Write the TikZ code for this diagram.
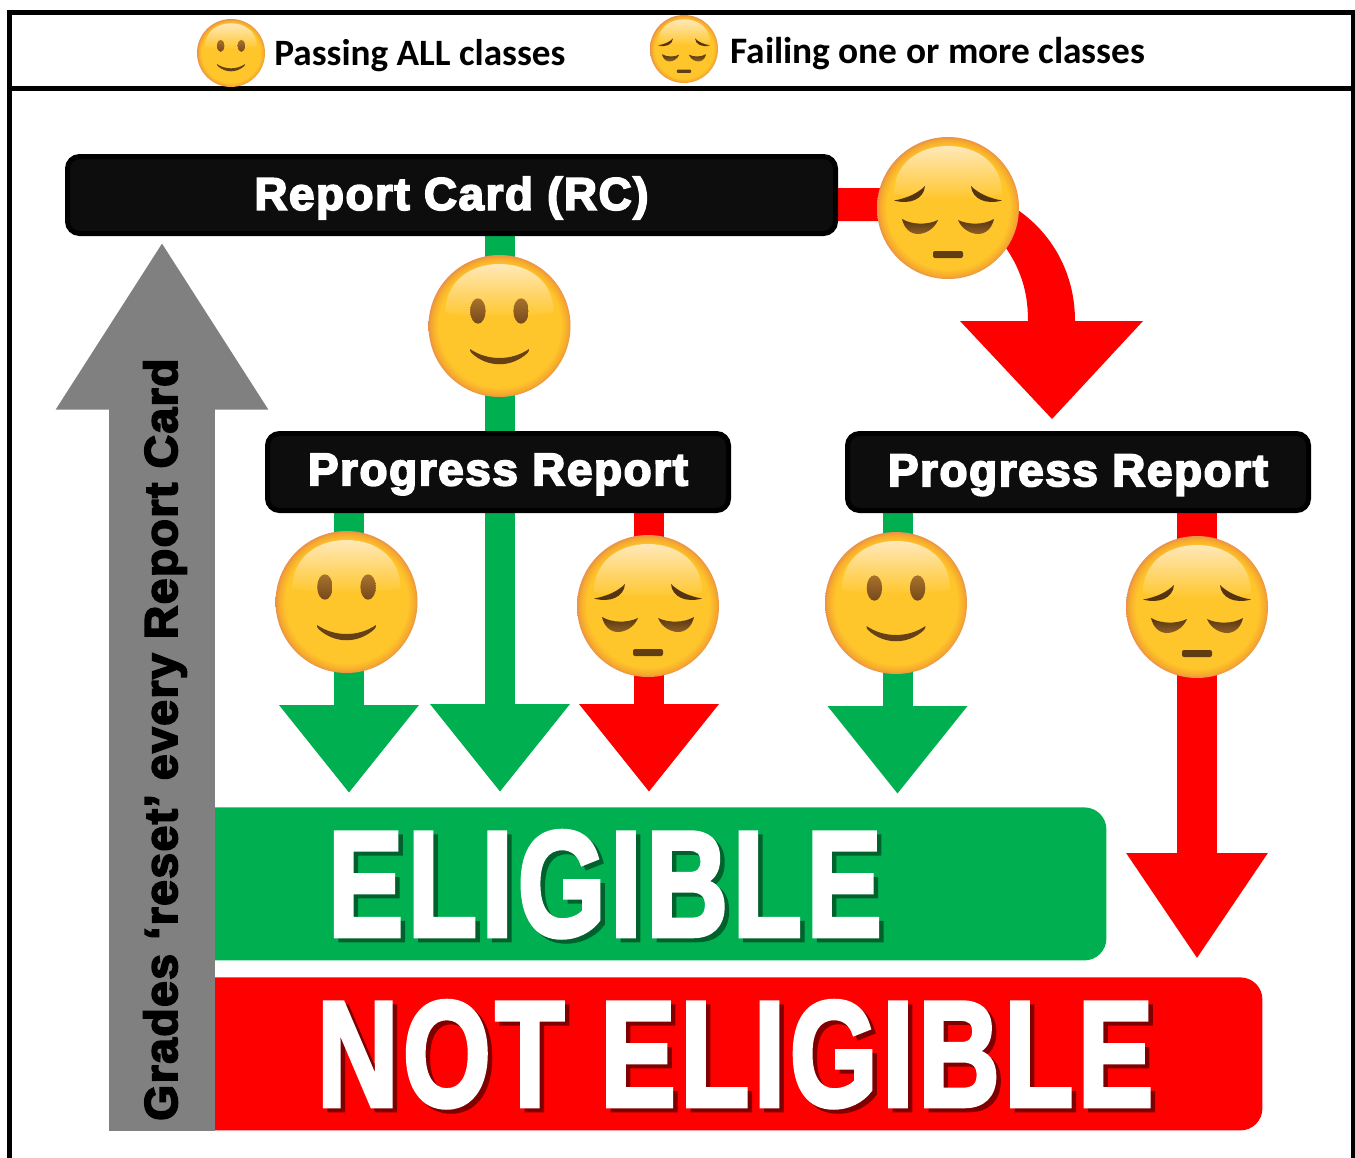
\documentclass[tikz,border=0pt]{standalone}
\usepackage{fontspec}
\usepackage{graphicx}
\usetikzlibrary{arrows.meta,shadings}
\newfontfamily\blk[FakeBold=4,LetterSpace=3.5]{Liberation Sans Bold}
\newfontfamily\blkb[FakeBold=3,LetterSpace=4]{Liberation Sans Bold}
\newfontfamily\hdr{Carlito Bold}
\definecolor{gn}{HTML}{00B050}
\definecolor{rd}{HTML}{FF0000}
\definecolor{gy}{HTML}{808080}
\definecolor{bx}{HTML}{0D0D0D}
\definecolor{faceY}{HTML}{FFC62B}
\definecolor{faceO}{HTML}{F6A92C}
\definecolor{faceE}{HTML}{E8924A}
\definecolor{faceH}{HTML}{FFE8B8}
\definecolor{fd}{HTML}{553410}
\definecolor{fl}{HTML}{8F6024}
\definecolor{el}{HTML}{A8722C}
\definecolor{ed}{HTML}{76491A}
\pgfdeclareradialshading{facefill}{\pgfpointorigin}{color(0bp)=(faceY); color(21.5bp)=(faceY); color(24bp)=(faceO); color(25bp)=(faceE); color(50bp)=(faceE)}
\tikzset{
  boxnode/.style={draw=black,fill=bx,line width=2.5pt,rounded corners=6pt,inner sep=0pt},
  boxtext/.style={inner sep=0pt,text=white,font=\blk},
  barnode/.style={rounded corners=11pt,inner sep=0pt,minimum height=76.5pt},
  facenode/.style={circle,shading=facefill,inner sep=0pt,draw=none},
  feat/.style={top color=fd,bottom color=fl,draw=none},
  eyefeat/.style={top color=el,bottom color=ed,draw=none},
  gshaft/.style={draw=gn,line width=15pt,-{Triangle[width=67pt,length=44pt]}},
  rshaft/.style={draw=rd,line width=15pt,-{Triangle[width=67pt,length=44pt]}},
  frameline/.style={draw=black,line width=2.5pt},
  bigtext/.style={inner sep=0pt,anchor=base west,font=\blkb},
  sidetext/.style={inner sep=0pt,anchor=base west,font=\blk}
}
\newcommand\faceback[4]{%
  \node[facenode,minimum size=#4pt] (#1) at (#2,#3) {};
  \pgfmathsetlengthmacro\fu{#4*0.5/71*1pt}%
  \begin{scope}[shift={(#1.center)},x=\fu,y=-\fu]
    \path[top color=faceH,bottom color=faceY,draw=none] (-54,-14) .. controls (-54,-44) and (-30,-62) .. (0,-62) .. controls (30,-62) and (54,-44) .. (54,-14) .. controls (30,-8) and (-30,-8) .. (-54,-14) -- cycle;
  \end{scope}}
\newcommand\smileface[4]{%
  \faceback{#1}{#2}{#3}{#4}%
  \begin{scope}[shift={(#1.center)},x=\fu,y=-\fu]
    \path[eyefeat] (-21.6,-15) ellipse [x radius=7.7,y radius=12.7];
    \path[eyefeat] (21.6,-15) ellipse [x radius=7.7,y radius=12.7];
    \path[fill=fd!70!fl,draw=none] (-29.5,23) .. controls (-12,35) and (12,35) .. (29.5,23) .. controls (29.5,25) and (29,26) .. (28,27) .. controls (12,42) and (-12,42) .. (-28,27) .. controls (-29,26) and (-29.5,25) .. (-29.5,23) -- cycle;
  \end{scope}}
\newcommand\sadface[4]{%
  \faceback{#1}{#2}{#3}{#4}%
  \begin{scope}[shift={(#1.center)},x=\fu,y=-\fu]
    \path[fill=fd,draw=none] (-54,-7.5) .. controls (-40,-10) and (-30,-15) .. (-23,-22) .. controls (-24,-9) and (-38,-3) .. (-54,-7.5) -- cycle;
    \path[fill=fd,draw=none] (54,-7.5) .. controls (40,-10) and (30,-15) .. (23,-22) .. controls (24,-9) and (38,-3) .. (54,-7.5) -- cycle;
    \path[feat] (-46,11) .. controls (-36,17) and (-20,17) .. (-10,12) .. controls (-14,22) and (-24,26) .. (-30,26) .. controls (-38,26) and (-44,20) .. (-46,11) -- cycle;
    \path[feat] (46,11) .. controls (36,17) and (20,17) .. (10,12) .. controls (14,22) and (24,26) .. (30,26) .. controls (38,26) and (44,20) .. (46,11) -- cycle;
    \path[fill=fd!80!fl,draw=none,rounded corners={2*\fu}] (-15,43) rectangle (15,50);
  \end{scope}}
\begin{document}
\begin{tikzpicture}[x=0.5pt,y=-0.5pt]
\useasboundingbox (0,0) rectangle (1355,1157);
% frame
\draw[frameline] (9.8,1160) -- (9.8,12.5) -- (1353.5,12.5) -- (1353.5,1160);
\draw[frameline] (9.8,88.7) -- (1353.5,88.7);
% bars
\node[barnode,fill=gn,minimum width=488pt,anchor=north west] (elig) at (130,807) {};
\node[barnode,fill=rd,minimum width=563.5pt,anchor=north west] (nelig) at (135,977) {};
% bar texts
\node[bigtext,text=gn!55!black] (eligs) at (332,940) {\resizebox{277pt}{52.5pt}{ELIGIBLE}};
\node[bigtext,text=white] (eligt) at (327.5,936) {\resizebox{277pt}{52.5pt}{ELIGIBLE}};
\node[bigtext,text=rd!50!black] (neligs) at (321,1110) {\resizebox{418pt}{52.5pt}{NOT ELIGIBLE}};
\node[bigtext,text=white] (neligt) at (316.5,1106) {\resizebox{418pt}{52.5pt}{NOT ELIGIBLE}};
\coordinate (tipA) at (349,793);
\coordinate (tipB) at (500,792);
\coordinate (tipC) at (649,792);
\coordinate (tipD) at (897.5,794);
\coordinate (tipE) at (1197,959);
\coordinate (tipF) at (1052,419);
\coordinate (rcb) at (500,236);
\coordinate (pla) at (349,513);
\coordinate (plc) at (649,513);
\coordinate (prd) at (897.5,513);
\coordinate (pre) at (1197,513);
% arrows
\draw[gshaft] (rcb) -- (tipB);
\draw[gshaft] (pla) -- (tipA);
\draw[rshaft] (plc) -- (tipC);
\draw[gshaft] (prd) -- (tipD);
\draw[draw=rd,line width=20pt,-{Triangle[width=67pt,length=53pt]}] (pre) -- (tipE);
% curved arrow
\fill[rd] (830,188) -- (950,188) .. controls (1010,188) and (1075,240) .. (1075,321) -- (1143,321) -- (tipF) -- (960,321) -- (1028,321) .. controls (1028,290) and (1020,268) .. (1004,245) .. controls (990,228) and (970,221) .. (950,221) -- (830,221) -- cycle;
% boxes
\node[boxnode,minimum width=384pt,minimum height=38.5pt] (rc) at (451.5,195) {};
\node[boxtext] (rct) at ([yshift=-1.5pt]rc.center) {\resizebox{197pt}{!}{Report Card (RC)}};
\node[boxnode,minimum width=230.5pt,minimum height=38.5pt] (pl) at (498,472) {};
\node[boxtext] (plt) at ([yshift=-1.2pt]pl.center) {\resizebox{190pt}{!}{Progress Report}};
\node[boxnode,minimum width=230.5pt,minimum height=38.5pt] (pr) at (1078,472) {};
\node[boxtext] (prt) at ([yshift=-1.6pt]pr.center) {\resizebox{190pt}{!}{Progress Report}};
% faces
\sadface{f1}{948}{208}{71}
\smileface{f2}{499.5}{326}{71}
\smileface{f3}{346.5}{602}{71}
\sadface{f4}{648}{606}{71}
\smileface{f5}{896}{603}{71}
\sadface{f6}{1197}{607}{71}
% grey arrow
\coordinate (gb) at (162,1131);
\coordinate (gt) at (162,241.5);
\draw[draw=gy,line width=53pt,-{Triangle[width=100pt,length=84pt]}] (gb) -- (gt);
\node[sidetext,rotate=90,text=black] (gtext) at (177,1121) {\resizebox{381pt}{!}{Grades ‘reset’ every Report Card}};
% legend
\smileface{l1}{231}{53}{34}
\sadface{l2}{684}{49}{34}
\node[inner sep=0pt,anchor=base west,font=\hdr] (lt1) at (274,65) {\resizebox{145.5pt}{!}{Passing ALL classes}};
\node[inner sep=0pt,anchor=base west,font=\hdr] (lt2) at (730,63) {\resizebox{207.5pt}{!}{Failing one or more classes}};
\end{tikzpicture}
\end{document}
